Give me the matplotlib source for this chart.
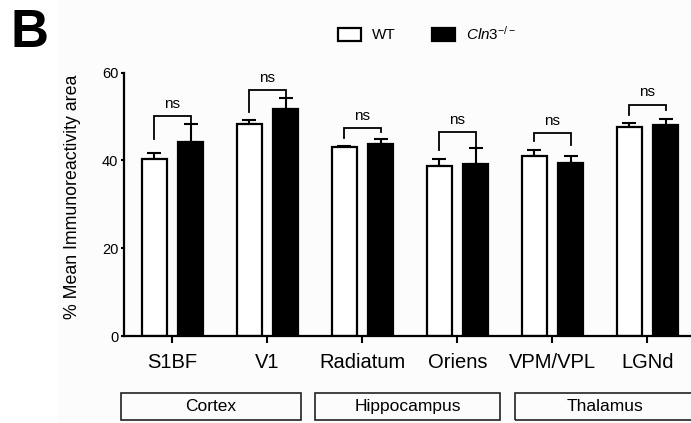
import numpy as np
import matplotlib.pyplot as plt
from matplotlib.patches import Rectangle
from matplotlib.transforms import blended_transform_factory

plt.rcParams['font.family'] = ['Liberation Sans', 'DejaVu Sans']
plt.rcParams['mathtext.fontset'] = 'custom'
plt.rcParams['mathtext.rm'] = 'Liberation Sans'
plt.rcParams['mathtext.it'] = 'Liberation Sans:italic'

# data
regions = ['S1BF', 'V1', 'Radiatum', 'Oriens', 'VPM/VPL', 'LGNd']
wtMean = [40.2, 48.2, 43.0, 38.8, 41.1, 47.7]
wtSem = [1.4, 0.9, 0.3, 1.5, 1.2, 0.9]
koMean = [44.1, 51.7, 43.7, 39.2, 39.4, 48.0]
koSem = [4.1, 2.5, 1.2, 3.7, 1.6, 1.5]
sigText = ['ns', 'ns', 'ns', 'ns', 'ns', 'ns']
bracketY = [50.0, 56.0, 47.3, 46.4, 46.2, 52.7]
legLeft = [44.8, 51.0, 45.1, 42.3, 44.5, 50.4]
legRight = [48.3, 54.2, 46.4, 43.0, 43.4, 51.4]
groups = ['Cortex', 'Hippocampus', 'Thalamus']
groupSpan = [(-0.54, 1.35), (1.50, 3.45), (3.61, 5.49)]
yTicks = [0, 20, 40, 60]

x = np.arange(len(regions))
barW = 0.27
off = 0.19

fig = plt.figure(figsize=(6.91, 4.23), dpi=100, facecolor='#fcfcfc')
fig.add_artist(Rectangle((0, 0), 58 / 691, 1, transform=fig.transFigure,
                         facecolor='white', edgecolor='none', zorder=-1))
ax = fig.add_axes([124 / 691, 87 / 423, 567 / 691, 263.5 / 423])
ax.patch.set_alpha(0)

# error bars first so the bar covers the lower half
ax.errorbar(x - off, wtMean, yerr=[np.zeros(len(x)), wtSem], fmt='none', ecolor='black',
            elinewidth=1.5, capsize=4.7, capthick=1.5, zorder=1)
ax.errorbar(x + off, koMean, yerr=[np.zeros(len(x)), koSem], fmt='none', ecolor='black',
            elinewidth=1.5, capsize=4.7, capthick=1.5, zorder=1)
ax.bar(x - off, wtMean, barW, color='white', edgecolor='black', linewidth=1.6, zorder=2)
ax.bar(x + off, koMean, barW, color='black', edgecolor='black', linewidth=1.6, zorder=2)

for i in range(len(x)):
    ax.plot([x[i] - off, x[i] - off, x[i] + off, x[i] + off],
            [legLeft[i], bracketY[i], bracketY[i], legRight[i]],
            color='black', linewidth=1.3, solid_joinstyle='miter', zorder=3)
    ax.text(x[i], bracketY[i] + 1.2, sigText[i], ha='center', va='bottom', fontsize=11)

ax.set_xlim(-0.51, 5.458)
ax.set_ylim(0, 60)
ax.set_xticks(x)
ax.set_xticklabels(regions, fontsize=14.5)
ax.set_yticks(yTicks)
ax.set_yticklabels([str(t) for t in yTicks], fontsize=10.5)
ax.tick_params(axis='x', length=5, width=1.5, pad=7.5)
ax.tick_params(axis='y', length=2.5, width=1.5, pad=1.5)
for s in ['top', 'right']:
    ax.spines[s].set_visible(False)
for s in ['left', 'bottom']:
    ax.spines[s].set_linewidth(1.6)

ax.set_ylabel('% Mean Immunoreactivity area', fontsize=12.8)
ax.yaxis.set_label_coords(-0.076, 0.53)

# region group boxes under the axis
trans = blended_transform_factory(ax.transData, ax.transAxes)
for g, (a, b) in zip(groups, groupSpan):
    ax.add_patch(Rectangle((a, -0.318), b - a, 0.103, transform=trans, fill=False,
                           edgecolor='#222222', linewidth=1.2, clip_on=False))
    ax.text((a + b) / 2, -0.2665, g, transform=trans, ha='center', va='center', fontsize=12.5)

handles = [Rectangle((0, 0), 1, 1, facecolor='white', edgecolor='black', linewidth=1.6),
           Rectangle((0, 0), 1, 1, facecolor='black', edgecolor='black', linewidth=1.6)]
fig.legend(handles, ['WT', r'$\mathit{Cln3}^{-/-}$'], loc='center left',
           bbox_to_anchor=(338 / 691, 1 - 33.5 / 423), ncol=2, frameon=False,
           handlelength=1.5, handleheight=0.95, handletextpad=0.7, columnspacing=2.4,
           fontsize=11, borderpad=0, borderaxespad=0)

fig.text(29 / 691, 1 - 33 / 423, 'B', ha='center', va='center', fontsize=38, fontweight='bold')

fig.savefig('out.png', dpi=100, facecolor=fig.get_facecolor())
